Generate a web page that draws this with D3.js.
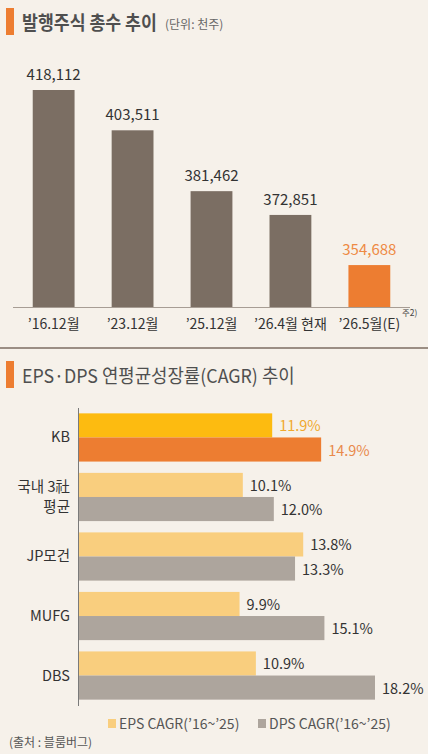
<!DOCTYPE html>
<html>
<head>
<meta charset="utf-8">
<script src="https://cdn.jsdelivr.net/npm/d3@7"></script>
<style>
  html, body { margin: 0; padding: 0; background: #f6f1ea; }
  svg { display: block; font-family: "Noto Sans CJK KR", "Noto Sans", sans-serif; }
</style>
</head>
<body>
<div id="chart"></div>
<script>
// 발행주식 총수 (천주)
const shareLabels = ["’16.12월", "’23.12월", "’25.12월", "’26.4월 현재", "’26.5월(E)"];
const shareValues = [418112, 403511, 381462, 372851, 354688];

// EPS / DPS CAGR (%)
const banks = ["KB", "국내 3社\n평균", "JP모건", "MUFG", "DBS"];
const epsCagr = [11.9, 10.1, 13.8, 9.9, 10.9];
const dpsCagr = [14.9, 12.0, 13.3, 15.1, 18.2];
const seriesNames = ["EPS CAGR(’16~’25)", "DPS CAGR(’16~’25)"];

const width = 428, height = 754;
const svg = d3.select("#chart").append("svg")
    .attr("width", width)
    .attr("height", height);

svg.append("rect").attr("width", width).attr("height", height).attr("fill", "#f6f1ea");

// 제목 글꼴이 원본보다 넓어서 가로로 눌러 맞춤
function squeezedText(x0, y0, size, weight, color, target, text) {
    const t = svg.append("text")
        .attr("font-size", size)
        .attr("font-weight", weight)
        .attr("fill", color)
        .text(text);
    const len = t.node().getComputedTextLength();
    const k = Math.min(1, target / len);
    t.attr("transform", `translate(${x0},${y0}) scale(${k},1)`);
    return t;
}

function sectionTitle(y, text, len, weight, sub) {
    svg.append("rect")
        .attr("x", 6).attr("y", y)
        .attr("width", 8).attr("height", 27)
        .attr("fill", "#ed7d31");
    squeezedText(22, y + 22, 19, weight, "#4f4f4f", len, text);
    if (sub) squeezedText(165, y + 21, 12, "normal", "#666", 60, sub);
}

// ---- 상단: 발행주식 총수 ----
sectionTitle(8, "발행주식 총수 추이", 135, "bold", "(단위: 천주)");

const x = d3.scaleBand()
    .domain(shareLabels)
    .range([13, 410])
    .paddingInner(0.47)
    .paddingOuter(0.25);

const y = d3.scaleLinear()
    .domain([339500, 418112])
    .range([307, 90]);

const last = shareLabels.length - 1;

svg.append("g").selectAll("rect")
    .data(shareValues)
    .join("rect")
    .attr("x", (d, i) => x(shareLabels[i]))
    .attr("y", d => y(d))
    .attr("width", x.bandwidth())
    .attr("height", d => y.range()[0] - y(d))
    .attr("fill", (d, i) => i === last ? "#ed7d31" : "#7b6e63");

svg.append("g").selectAll("text")
    .data(shareValues)
    .join("text")
    .attr("x", (d, i) => x(shareLabels[i]) + x.bandwidth() / 2)
    .attr("y", d => y(d) - 10)
    .attr("text-anchor", "middle")
    .attr("font-size", 15)
    .attr("fill", (d, i) => i === last ? "#ee8a44" : "#333")
    .text(d => d3.format(",")(d));

// baseline
svg.append("line")
    .attr("x1", 13).attr("x2", 410)
    .attr("y1", 307.5).attr("y2", 307.5)
    .attr("stroke", "#a79d94").attr("stroke-width", 1);

const xAxis = svg.append("g")
    .attr("transform", "translate(0,307)")
    .call(d3.axisBottom(x).tickSize(0).tickPadding(12));
xAxis.select(".domain").remove();
xAxis.selectAll("text")
    .attr("font-size", 14)
    .attr("fill", "#333")
    .style("font-family", "\"Noto Sans CJK KR\", sans-serif");

svg.append("text")
    .attr("x", 402).attr("y", 316)
    .attr("font-size", 8.5)
    .attr("fill", "#444")
    .text("주2)");

// divider
svg.append("line")
    .attr("x1", 0).attr("x2", width)
    .attr("y1", 348).attr("y2", 348)
    .attr("stroke", "#7d6c62").attr("stroke-width", 1.5);

// ---- 하단: EPS·DPS CAGR ----
sectionTitle(361, "EPS·DPS 연평균성장률(CAGR) 추이", 273, "normal");

const yb = d3.scaleBand()
    .domain(banks)
    .range([408, 705])
    .paddingInner(0.19)
    .paddingOuter(0.09);

const ys = d3.scaleBand()
    .domain(["eps", "dps"])
    .range([0, yb.bandwidth()]);

const xb = d3.scaleLinear()
    .domain([0, 18.2])
    .range([78, 375]);

const rows = banks.map((b, i) => ({ bank: b, i: i, eps: epsCagr[i], dps: dpsCagr[i] }));

const barColor = {
    eps: (i) => i === 0 ? "#fdbb10" : "#f9ce7e",
    dps: (i) => i === 0 ? "#ed7d31" : "#ada59d"
};
const labelColor = {
    eps: (i) => i === 0 ? "#f0a92e" : "#333",
    dps: (i) => i === 0 ? "#e98a4c" : "#333"
};

const groups = svg.append("g").selectAll("g")
    .data(rows)
    .join("g")
    .attr("transform", d => `translate(0,${yb(d.bank)})`);

["eps", "dps"].forEach(key => {
    groups.append("rect")
        .attr("x", xb(0))
        .attr("y", ys(key))
        .attr("width", d => xb(d[key]) - xb(0))
        .attr("height", ys.bandwidth())
        .attr("fill", d => barColor[key](d.i));
    groups.append("text")
        .attr("x", d => xb(d[key]) + 7)
        .attr("y", ys(key) + ys.bandwidth() / 2 + 6)
        .attr("font-size", 14.5)
        .attr("fill", d => labelColor[key](d.i))
        .text(d => d[key].toFixed(1) + "%");
});

// category labels
groups.append("text")
    .attr("x", 70)
    .attr("y", yb.bandwidth() / 2)
    .attr("text-anchor", "end")
    .attr("font-size", 14.5)
    .attr("fill", "#333")
    .each(function (d) {
        const lines = d.bank.split("\n");
        const t = d3.select(this);
        const start = lines.length === 1 ? 5 : -4.5;
        lines.forEach((ln, k) => {
            t.append("tspan")
                .attr("x", 70)
                .attr("dy", k === 0 ? start : 20)
                .text(ln);
        });
    });

// axis line
svg.append("line")
    .attr("x1", 78.5).attr("x2", 78.5)
    .attr("y1", 408).attr("y2", 706)
    .attr("stroke", "#7a7a7a").attr("stroke-width", 1);

// legend
const legendX = [108, 258];
const legendColors = ["#f9ce7e", "#ada59d"];
const legend = svg.append("g").selectAll("g")
    .data(seriesNames)
    .join("g")
    .attr("transform", (d, i) => `translate(${legendX[i]},719)`);
legend.append("rect")
    .attr("width", 8).attr("height", 9)
    .attr("fill", (d, i) => legendColors[i]);
legend.append("text")
    .attr("x", 11).attr("y", 10)
    .attr("font-size", 14)
    .attr("fill", "#555")
    .text(d => d);

svg.append("text")
    .attr("x", 9).attr("y", 747)
    .attr("font-size", 12)
    .attr("fill", "#555")
    .text("(출처 : 블룸버그)");
</script>
</body>
</html>
